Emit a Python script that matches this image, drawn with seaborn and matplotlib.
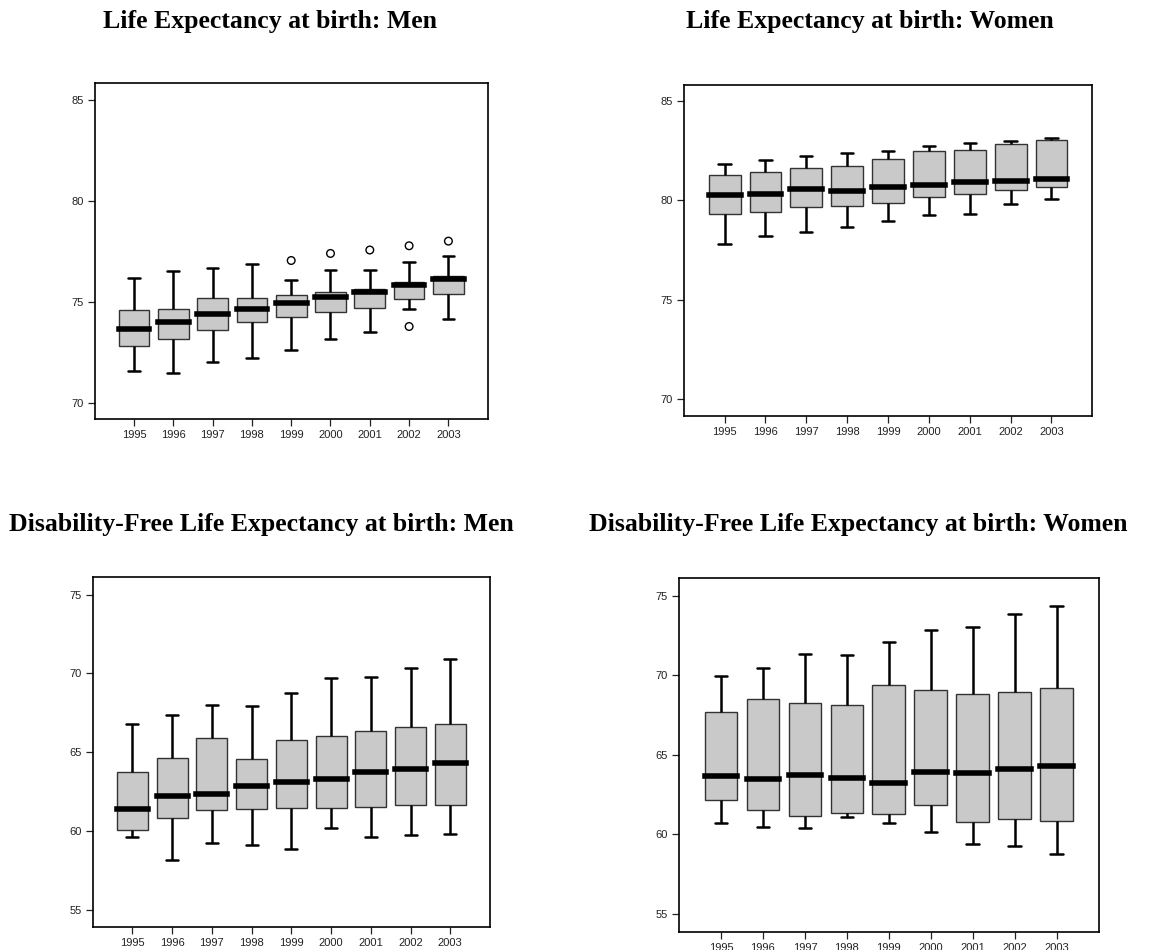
import numpy as np
import pandas as pd
import matplotlib
matplotlib.use("Agg")
import matplotlib.pyplot as plt
import seaborn as sns

years = ["1995", "1996", "1997", "1998", "1999", "2000", "2001", "2002", "2003"]

# Life expectancy at birth: Men
le_men_lo  = [71.59, 71.47, 72.02, 72.23, 72.63, 73.17, 73.50, 74.64, 74.16]
le_men_q1  = [72.81, 73.14, 73.60, 73.98, 74.25, 74.49, 74.72, 75.15, 75.39]
le_men_med = [73.67, 73.98, 74.38, 74.64, 74.92, 75.24, 75.48, 75.85, 76.13]
le_men_q3  = [74.59, 74.66, 75.17, 75.17, 75.34, 75.50, 75.65, 76.00, 76.28]
le_men_hi  = [76.19, 76.51, 76.69, 76.87, 76.08, 76.59, 76.59, 76.97, 77.29]
le_men_out_year = ["1999", "2000", "2001", "2002", "2002", "2003"]
le_men_out_val  = [77.05, 77.40, 77.57, 77.78, 73.78, 78.01]

# Life expectancy at birth: Women
le_wom_lo  = [77.81, 78.20, 78.40, 78.65, 78.95, 79.25, 79.30, 79.79, 80.07]
le_wom_q1  = [79.30, 79.40, 79.64, 79.70, 79.85, 80.16, 80.31, 80.53, 80.68]
le_wom_med = [80.24, 80.32, 80.54, 80.44, 80.66, 80.74, 80.89, 80.96, 81.06]
le_wom_q3  = [81.25, 81.40, 81.63, 81.73, 82.08, 82.45, 82.54, 82.82, 83.01]
le_wom_hi  = [81.83, 82.00, 82.23, 82.39, 82.45, 82.74, 82.85, 82.97, 83.14]

# Disability-free life expectancy at birth: Men
df_men_lo  = [59.61, 58.15, 59.25, 59.11, 58.85, 60.16, 59.59, 59.72, 59.78]
df_men_q1  = [60.06, 60.80, 61.31, 61.37, 61.43, 61.43, 61.52, 61.62, 61.62]
df_men_med = [61.41, 62.24, 62.34, 62.87, 63.08, 63.30, 63.72, 63.95, 64.29]
df_men_q3  = [63.74, 64.63, 65.92, 64.57, 65.77, 66.05, 66.37, 66.62, 66.77]
df_men_hi  = [66.77, 67.38, 68.02, 67.95, 68.78, 69.71, 69.79, 70.37, 70.89]

# Disability-free life expectancy at birth: Women
df_wom_lo  = [60.70, 60.47, 60.42, 61.07, 60.70, 60.13, 59.38, 59.29, 58.77]
df_wom_q1  = [62.14, 61.51, 61.18, 61.35, 61.28, 61.83, 60.80, 60.97, 60.86]
df_wom_med = [63.65, 63.48, 63.71, 63.52, 63.21, 63.92, 63.88, 64.09, 64.30]
df_wom_q3  = [67.67, 68.51, 68.28, 68.15, 69.37, 69.09, 68.82, 68.97, 69.22]
df_wom_hi  = [69.97, 70.46, 71.34, 71.27, 72.11, 72.86, 73.03, 73.87, 74.33]

titles = ["Life Expectancy at birth: Men", "Life Expectancy at birth: Women",
          "Disability-Free Life Expectancy at birth: Men",
          "Disability-Free Life Expectancy at birth: Women"]

sns.set_theme(style="white")
plt.rcParams["font.family"] = ["Liberation Sans", "DejaVu Sans"]

fig = plt.figure(figsize=(11.53, 9.5), dpi=100)

axes_pos = [
    [0.0821, 0.5586, 0.3409, 0.3537],
    [0.5930, 0.5621, 0.3544, 0.3487],
    [0.0804, 0.0239, 0.3446, 0.3691],
    [0.5889, 0.0193, 0.3640, 0.3720],
]
ylims = [(69.18, 85.83), (69.15, 85.80), (53.88, 76.14), (53.89, 76.09)]
yticks = [[70, 75, 80, 85], [70, 75, 80, 85], [55, 60, 65, 70, 75], [55, 60, 65, 70, 75]]
title_pos = [(0.2342, 0.9705), (0.7546, 0.9705), (0.2264, 0.4410), (0.7440, 0.4410)]

panels = [
    (le_men_lo, le_men_q1, le_men_med, le_men_q3, le_men_hi, le_men_out_year, le_men_out_val),
    (le_wom_lo, le_wom_q1, le_wom_med, le_wom_q3, le_wom_hi, [], []),
    (df_men_lo, df_men_q1, df_men_med, df_men_q3, df_men_hi, [], []),
    (df_wom_lo, df_wom_q1, df_wom_med, df_wom_q3, df_wom_hi, [], []),
]

BOXW = 0.78
for i, (lo, q1, med, q3, hi, oy, ov) in enumerate(panels):
    ax = fig.add_axes(axes_pos[i])
    rows = []
    for y, a, b, c, d, e in zip(years, lo, q1, med, q3, hi):
        for v in (a, b, c, d, e):
            rows.append({"year": y, "value": v})
    data = pd.DataFrame(rows)
    sns.boxplot(data=data, x="year", y="value", order=years, whis=(0, 100),
                width=BOXW, ax=ax, showfliers=False,
                boxprops=dict(facecolor="#c9c9c9", edgecolor="#333333", linewidth=1.0),
                whiskerprops=dict(color="black", linewidth=1.8),
                capprops=dict(color="black", linewidth=1.8),
                medianprops=dict(color="black", linewidth=4.0, solid_capstyle="projecting"))
    # narrower caps
    for ln in ax.lines:
        xd = np.asarray(ln.get_xdata(), dtype=float)
        yd = np.asarray(ln.get_ydata(), dtype=float)
        if len(xd) == 2 and yd[0] == yd[1] and abs(abs(xd[1] - xd[0]) - 0.5 * BOXW) < 1e-6:
            cx = xd.mean()
            ln.set_xdata([cx - 0.15, cx + 0.15])
    if oy:
        n0 = len(ax.collections)
        out = pd.DataFrame({"year": oy, "value": ov})
        sns.stripplot(data=out, x="year", y="value", order=years, jitter=False,
                      size=5.5, color="black", ax=ax)
        for coll in ax.collections[n0:]:
            coll.set_facecolor("none")
            coll.set_edgecolor("black")
            coll.set_linewidth(1.0)
    ax.set_xlim(-1, 9)
    ax.set_ylim(*ylims[i])
    ax.set_yticks(yticks[i])
    ax.set_xlabel("")
    ax.set_ylabel("")
    for sp in ax.spines.values():
        sp.set_visible(True)
        sp.set_color("black")
        sp.set_linewidth(1.2)
    ax.tick_params(axis="both", which="major", direction="out", length=5, width=0.9,
                   color="#222222", labelsize=8, labelcolor="#222222", pad=3,
                   bottom=True, left=True)
    fig.text(title_pos[i][0], title_pos[i][1], titles[i], ha="center", va="baseline",
             family=["Liberation Serif", "DejaVu Serif"], fontweight="bold",
             fontsize=18.5, color="black")

fig.savefig("out.png", dpi=100)
